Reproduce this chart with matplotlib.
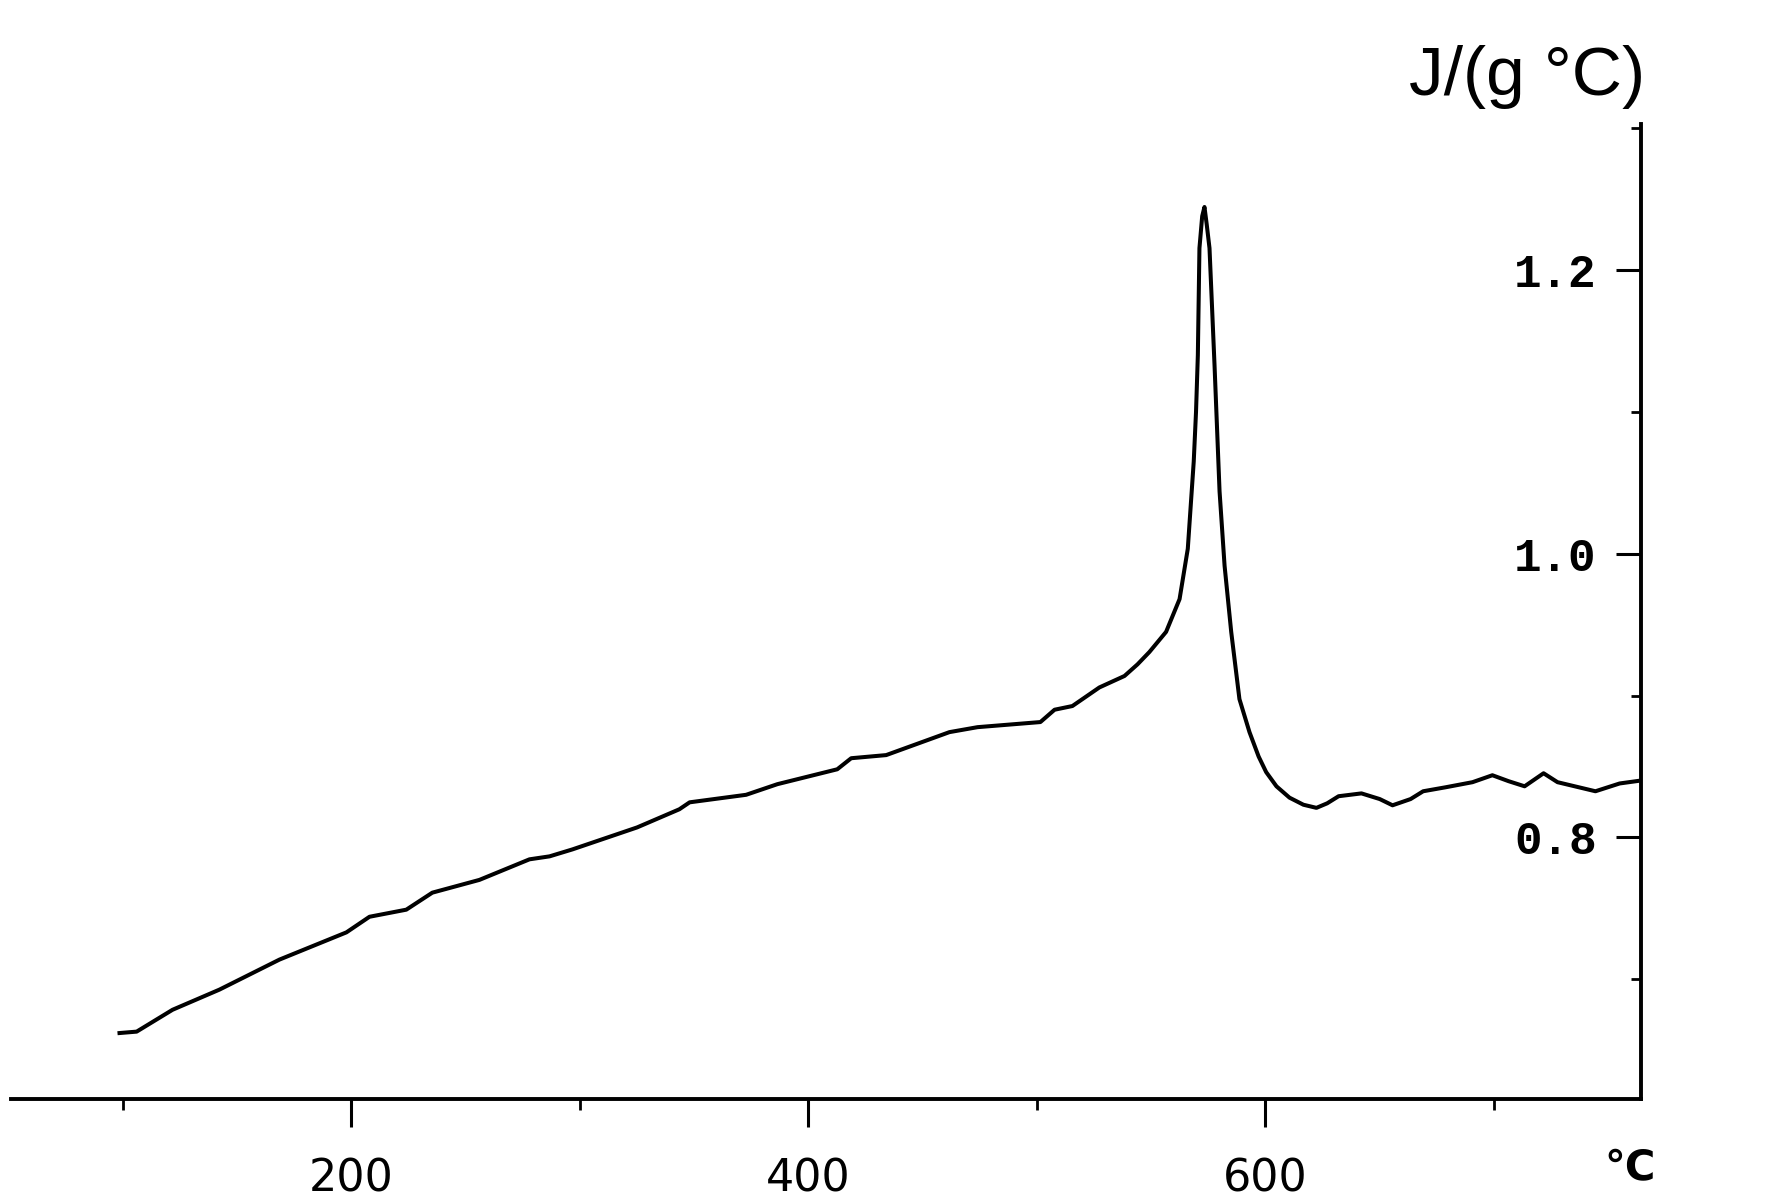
import matplotlib
matplotlib.use('Agg')
import matplotlib.pyplot as plt

temp = [98.5, 106, 121.7, 142.2, 168.5, 197.8, 207.9, 224, 235.4, 256, 277.9,
        286.7, 296.7, 325, 343.5, 348, 372.7, 386.4, 412.6, 418.7, 434,
        461.7, 474, 501.5, 507.7, 515.5, 527.3, 538.3, 544, 549.2, 556.5,
        562.4, 566.0, 567.5, 568.6, 569.6, 570.4, 571.1, 572.3, 573.3, 574.3,
        575.5, 577.7, 579.9, 582.1, 585.0, 588.6, 593.0, 597, 600.3, 604.8,
        610.5, 616.6, 622.3, 627, 632, 642, 650, 655.6, 663.5, 669, 678.8,
        690.6, 699.3, 706.4, 713.4, 721.7, 727.8, 744.4, 755, 764]
cp = [0.662, 0.663, 0.6784, 0.6926, 0.7138, 0.733, 0.744, 0.749, 0.761, 0.770, 0.7845,
      0.7866, 0.7915, 0.807, 0.8198, 0.8247, 0.830, 0.8375, 0.848, 0.8558, 0.858,
      0.8742, 0.8777, 0.8813, 0.890, 0.8926, 0.9057, 0.9138, 0.922, 0.9307, 0.9449,
      0.968, 1.0035, 1.039, 1.065, 1.10, 1.14, 1.2155, 1.238, 1.2445, 1.232,
      1.2155, 1.133, 1.044, 0.9915, 0.9449, 0.8975, 0.8742, 0.857, 0.846, 0.836,
      0.828, 0.823, 0.8208, 0.824, 0.829, 0.831, 0.827, 0.8226, 0.827, 0.8325, 0.8353,
      0.8389, 0.8438, 0.8396, 0.836, 0.8452, 0.8389, 0.8325, 0.838, 0.840]

x_major = [200, 400, 600]
x_minor = [100, 300, 500, 700]
y_major = [0.8, 1.0, 1.2]
y_major_labels = ['0.8', '1.0', '1.2']
y_minor = [0.7, 0.9, 1.1, 1.3]

fig = plt.figure(figsize=(17.69, 12.02), dpi=100)
ax = fig.add_axes([0.0062, 0.0857, 0.9214, 0.8111])

ax.plot(temp, cp, color='black', lw=2.9, solid_joinstyle='round')

ax.set_xlim(51, 764.3)
ax.set_ylim(0.6155, 1.303)

# y axis drawn at the right end, ticks and labels on its left side
ax.spines['left'].set_position(('axes', 1.0))
ax.spines['right'].set_visible(False)
ax.spines['top'].set_visible(False)
for s in ('left', 'bottom'):
    ax.spines[s].set_linewidth(2.8)

ax.set_xticks(x_major, labels=[str(v) for v in x_major],
              fontfamily='DejaVu Sans', fontsize=32)
ax.set_xticks(x_minor, minor=True)
ax.set_yticks(y_major, labels=y_major_labels,
              fontfamily='Liberation Mono', fontweight='bold', fontsize=33)
ax.set_yticks(y_minor, minor=True)

ax.tick_params(axis='x', which='major', length=20, width=2.2, pad=22)
ax.tick_params(axis='x', which='minor', length=8, width=2.0)
ax.tick_params(axis='y', which='major', length=18, width=2.2, pad=14)
ax.tick_params(axis='y', which='minor', length=7, width=2.0)

fig.text(0.93, 0.921, 'J/(g °C)', ha='right', va='baseline',
         fontfamily='Liberation Sans', fontsize=50)
fig.text(0.9214, 0.0283, '℃', ha='center', va='center',
         fontfamily='DejaVu Sans', fontsize=30, fontweight='bold')

fig.savefig('out.png', dpi=100)
